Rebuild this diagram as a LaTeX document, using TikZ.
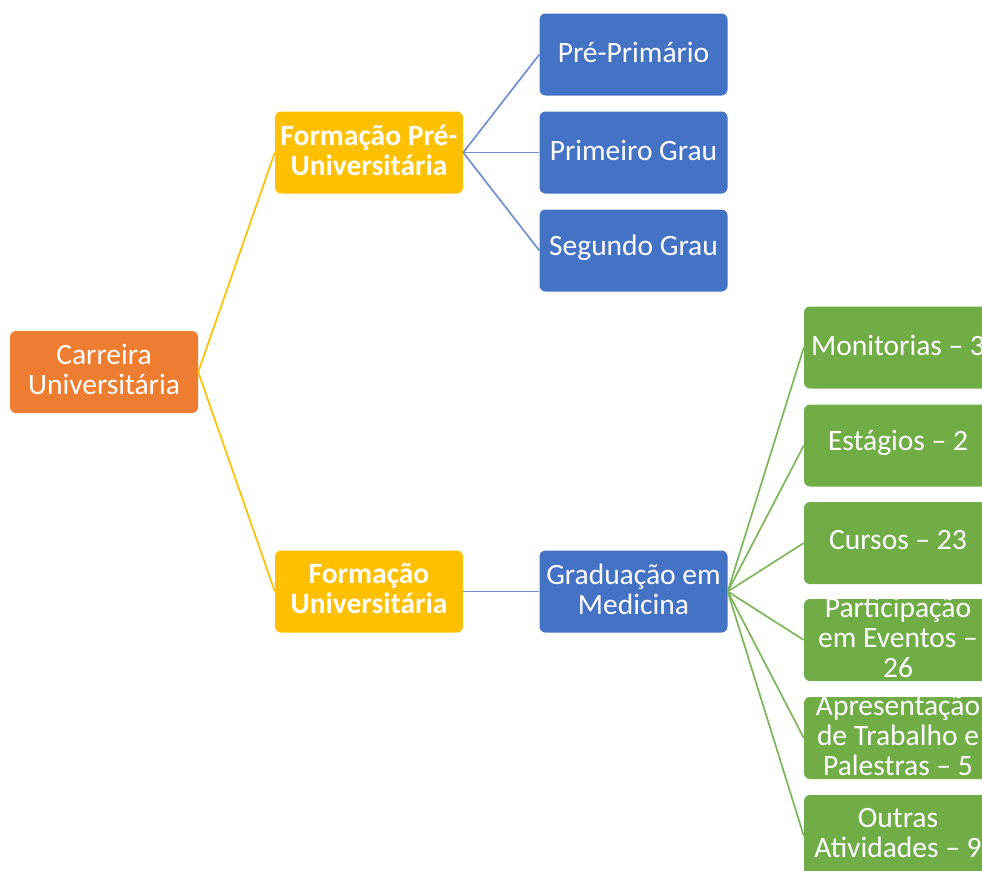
\documentclass[tikz,border=0pt]{standalone}
\usepackage{fontspec}
\setmainfont{Carlito}
\definecolor{corange}{HTML}{ED7D31}
\definecolor{cyellow}{HTML}{FFC000}
\definecolor{cblue}{HTML}{4472C4}
\definecolor{cgreen}{HTML}{70AD47}
\definecolor{lblue}{HTML}{6F8FD2}
\definecolor{lgreen}{HTML}{7DB65A}
\tikzset{
  box/.style={rectangle, rounded corners=6pt, minimum width=188pt, minimum height=82pt,
    inner sep=0pt},
  txt/.style={inner sep=0pt, text=white, align=center, font=\fontsize{29.5}{30}\selectfont},
  btxt/.style={txt, font=\fontsize{29.5}{30}\selectfont\bfseries},
  orangebox/.style={box, fill=corange},
  yellowbox/.style={box, fill=cyellow},
  bluebox/.style={box, fill=cblue},
  greenbox/.style={box, fill=cgreen},
  yline/.style={draw=cyellow, line width=1.7pt},
  bline/.style={draw=lblue, line width=1.7pt},
  gline/.style={draw=lgreen, line width=1.7pt},
}
\newcommand{\bx}[5]{\node[#1] (#2) at (#3) {};
  \node[#4] (#2-t) at ([yshift=2.5pt]#2.center) {#5};}
\begin{document}
\begin{tikzpicture}[x=1pt,y=-1pt]
\useasboundingbox (0,0) rectangle (982,870);
\clip (0,0) rectangle (982,870);
\bx{orangebox}{car}{104,372}{txt}{Carreira\\Universitária}
\bx{yellowbox}{fpre}{369,152.5}{btxt}{Formação Pré-\\Universitária}
\bx{yellowbox}{funi}{369,591.5}{btxt}{Formação\\Universitária}
\bx{bluebox}{pp}{633.5,54.5}{txt}{Pré-Primário}
\bx{bluebox}{pg}{633.5,152.5}{txt}{Primeiro Grau}
\bx{bluebox}{sg}{633.5,250.5}{txt}{Segundo Grau}
\bx{bluebox}{grad}{633.5,591.5}{txt}{Graduação em\\Medicina}
\bx{greenbox}{g1}{898,347.5}{txt}{Monitorias -- 3}
\bx{greenbox}{g2}{898,445.5}{txt}{Estágios -- 2}
\bx{greenbox}{g3}{898,543}{txt}{Cursos -- 23}
\bx{greenbox}{g4}{898,640}{txt}{Participação\\em Eventos --\\26}
\bx{greenbox}{g5}{898,738}{txt}{Apresentação\\de Trabalho e\\Palestras -- 5}
\bx{greenbox}{g6}{898,836}{txt}{Outras\\Atividades -- 9}
\draw[yline] (car.east) -- (fpre.west);
\draw[yline] (car.east) -- (funi.west);
\draw[bline] (fpre.east) -- (pp.west);
\draw[bline] (fpre.east) -- (pg.west);
\draw[bline] (fpre.east) -- (sg.west);
\draw[bline] (funi.east) -- (grad.west);
\foreach \g in {g1,g2,g3,g4,g5,g6} \draw[gline] (grad.east) -- (\g.west);
\end{tikzpicture}
\end{document}
